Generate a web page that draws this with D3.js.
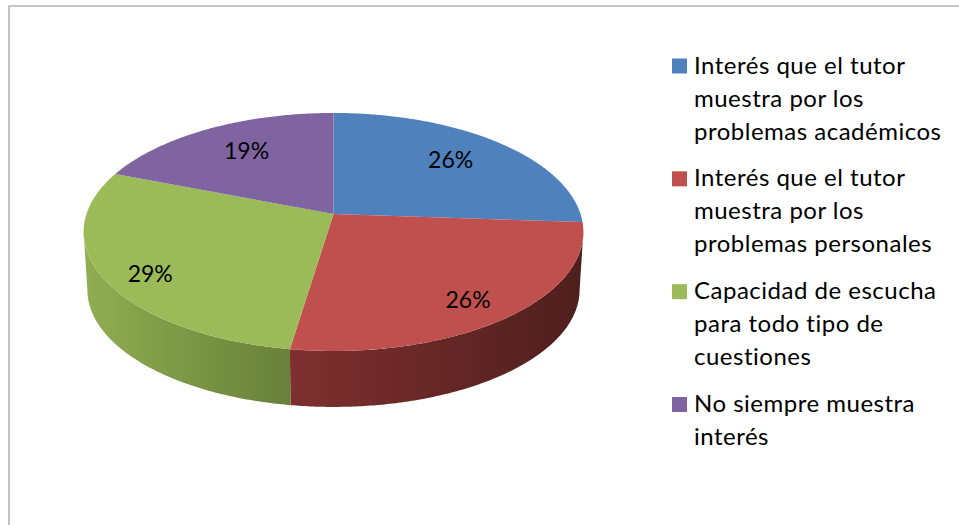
<!DOCTYPE html>
<html>
<head>
<meta charset="utf-8">
<style>
  html, body { margin: 0; background: #fff; }
  svg { display: block; }
  text { font-family: Lato, "Open Sans", sans-serif; fill: #000; }
</style>
</head>
<body>
<div id="chart"></div>
<script src="https://d3js.org/d3.v7.min.js"></script>
<script>
  // data
  const categories = [
    ["Interés que el tutor", "muestra por los", "problemas académicos"],
    ["Interés que el tutor", "muestra por los", "problemas personales"],
    ["Capacidad de escucha", "para todo tipo de", "cuestiones"],
    ["No siempre muestra", "interés"]
  ];
  const values = [26.1, 26.3, 28.51, 19.09];

  const colors = ["#4f81bd", "#c0504d", "#9bbb59", "#8064a2"];
  const wallLeft = ["#3a5f8c", "#7f2f2f", "#90ae51", "#5e4a78"];
  const wallRight = ["#2b4668", "#4e1f1e", "#68803a", "#463758"];

  const width = 959,
        height = 525;

  // the pie lies flat and is seen in perspective, so its centre sits above the ellipse middle
  const cx = 333.5,
        cy = 214,
        radiusX = 247,
        radiusY = 116.3,
        tilt = 0.151,
        depth = 58,
        bottomScale = 0.985;

  // angles where the outline is widest, the wall only shows between them
  const wallStart = Math.acos(-tilt),
        wallEnd = 2 * Math.PI - wallStart;

  const svg = d3.select("#chart")
                .append("svg")
                .attr("width", width)
                .attr("height", height);

  // circle point (angle from top, clockwise) -> screen
  function project(angle, r = 1, bottom = false) {
    const u = r * Math.sin(angle),
          v = -r * Math.cos(angle),
          w = 1 - tilt * v,
          s = bottom ? bottomScale : 1;
    return [cx + s * radiusX * u / w, cy + (bottom ? depth : 0) + s * radiusY * v / w];
  }

  function sample(a0, a1) {
    return d3.range(a0, a1, 0.01).concat([a1]);
  }

  const slices = d3.pie().sort(null)(values);
  const line = d3.line();

  // frame
  svg.append("path")
     .attr("d", `M9,${height} V6 H${width}`)
     .attr("fill", "none")
     .attr("stroke", "#b5b5b5")
     .attr("stroke-width", 1.6);

  // wall gradients
  const defs = svg.append("defs");
  slices.forEach((d, i) => {
    const g = defs.append("linearGradient").attr("id", `wall${i}`);
    g.append("stop").attr("offset", "0%").attr("stop-color", wallLeft[i]);
    g.append("stop").attr("offset", "100%").attr("stop-color", wallRight[i]);
  });

  // walls
  svg.append("g")
     .selectAll("path")
     .data(slices)
     .join("path")
     .attr("d", d => {
       const a0 = Math.max(d.startAngle, wallStart),
             a1 = Math.min(d.endAngle, wallEnd);
       if (a1 <= a0) return null;
       const angles = sample(a0, a1);
       const top = angles.map(a => project(a));
       const low = angles.slice().reverse().map(a => project(a, 1, true));
       return line(top.concat(low)) + "Z";
     })
     .attr("fill", (d, i) => `url(#wall${i})`);

  // top faces
  svg.append("g")
     .selectAll("path")
     .data(slices)
     .join("path")
     .attr("d", d => line([[cx, cy]].concat(sample(d.startAngle, d.endAngle).map(a => project(a)))) + "Z")
     .attr("fill", (d, i) => colors[i]);

  // percent labels
  const labelRadius = [0.695, 0.79, 0.805, 0.676],
        labelLift = [-3, 7, 10, -3];
  const percent = d3.format(".0%");
  const total = d3.sum(values);

  svg.append("g")
     .selectAll("text")
     .data(slices)
     .join("text")
     .attr("x", (d, i) => project((d.startAngle + d.endAngle) / 2, labelRadius[i])[0])
     .attr("y", (d, i) => project((d.startAngle + d.endAngle) / 2, labelRadius[i])[1] + labelLift[i])
     .attr("dy", "0.35em")
     .attr("text-anchor", "middle")
     .attr("font-size", 23)
     .text(d => percent(d.value / total));

  // legend
  const legendY = d3.scalePoint()
                    .domain(d3.range(categories.length))
                    .range([73.5, 412]);

  const legend = svg.append("g")
                    .selectAll("g")
                    .data(categories)
                    .join("g")
                    .attr("transform", (d, i) => `translate(672,${legendY(i)})`);

  legend.append("rect")
        .attr("y", -15)
        .attr("width", 15)
        .attr("height", 15)
        .attr("fill", (d, i) => colors[i]);

  legend.selectAll("text")
        .data(d => d)
        .join("text")
        .attr("x", 22)
        .attr("y", (d, i) => i * 33)
        .attr("font-size", 24)
        .attr("letter-spacing", 0.5)
        .text(d => d);
</script>
</body>
</html>
